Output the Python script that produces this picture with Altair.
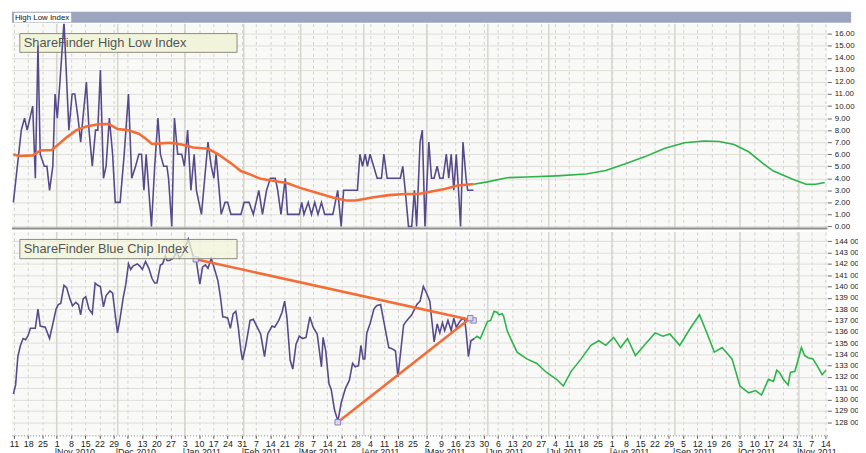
import altair as alt
import pandas as pd

BASE = pd.Timestamp("2010-10-11")  # day offsets below are counted from this date

# ShareFinder High Low Index (purple) : (day offset, value)
hl_line = [(-0.3,2),(3.6,8),(5.2,9),(6.5,8),(9.2,10),(10.5,4),(11.8,15),(12.9,6),(14.9,5),(16.2,5),
           (17.5,3),(19.1,5),(20.2,11),(21.3,9),(22.6,12),(24.6,17),(27.0,8),(28.6,11),(29.9,11),(31.5,9),
           (32.8,7),(35.6,12),(36.9,8),(38.5,5),(40.1,8),(41.2,8),(42.5,13),(44.0,4),(45.3,5),(46.9,9),
           (48.5,6),(49.8,2),(52.2,2),(54.2,6),(56.3,11),(57.9,4),(59.8,5),(61.4,6),(62.7,6),(63.9,3),
           (65.0,6),(67.6,0),(69.2,5),(70.8,9),(72.0,6),(73.6,5),(75.2,5),(76.0,4),(77.6,0),(78.9,9),
           (80.5,6),(82.5,6),(83.8,5),(85.4,8),(87.0,3),(88.6,6),(89.7,3),(92.2,1),(93.8,4),(95.4,7),
           (97.0,5),(98.3,4),(99.4,6),(101.9,1),(103.8,2),(105.1,2),(106.7,1),(111.6,1),(113.2,2),(115.6,2),
           (117.7,1),(120.4,3),(122.2,1),(124.2,3),(126.1,4),(128.5,4),(129.7,3),(131.3,1),(133.4,4),(134.5,1),
           (140.3,1),(141.5,2),(142.6,1),(144.7,2),(146.3,1),(147.9,2),(149.5,1),(151.2,2),(152.8,1),(156.8,1),
           (159.2,3),(160.9,0),(162.1,3),(168.9,3),(170.1,6),(171.4,5),(172.7,6),(173.8,5),(175.1,6),(178.6,4),
           (180.7,4),(181.9,6),(183.5,4),(185.6,4),(190.0,4),(191.2,5),(192.4,3),(194.0,0),(195.6,0),(196.9,3),
           (198.0,0),(199.7,7),(200.8,8),(202.1,0),(204.0,7),(205.3,4),(206.6,4),(208.1,5),(209.4,4),(211.0,4),
           (212.6,6),(213.8,4),(215.0,6),(216.3,3),(217.5,6),(218.6,3),(219.6,0),(220.8,7),(222.3,4),(223.1,3),
           (226.0,3)]

# moving average (orange)
hl_avg = [(-0.3,6.0),(2.4,5.85),(9.2,5.9),(12.9,6.3),(18.6,6.35),(21.8,6.8),(25.9,7.4),(30.7,8.0),
          (35.6,8.3),(42.0,8.5),(46.6,8.5),(50.9,8.1),(55.8,8.0),(61.4,7.7),(64.7,7.3),(67.9,6.85),
          (72.0,6.9),(76.8,6.95),(82.5,6.8),(88.1,6.55),(95.4,6.45),(100.3,6.0),(106.7,5.25),(111.6,4.6),
          (116.4,4.3),(121.3,3.95),(134.2,3.6),(140.7,3.2),(148.8,2.8),(156.8,2.4),(163.3,2.15),(168.1,2.15),
          (176.2,2.4),(184.3,2.6),(192.4,2.7),(198.9,2.7),(205.3,2.9),(211.8,3.1),(218.3,3.4),(224.8,3.5),
          (226.0,3.5)]

# projection (green)
hl_proj = [(226.0,3.5),(232.8,3.7),(242.5,4.05),(252.2,4.1),(266.8,4.2),(281.3,4.35),(291.0,4.65),
           (300.7,5.2),(310.4,5.8),(320.1,6.5),(329.8,6.95),(339.5,7.1),(346.8,7.05),(354.1,6.8),
           (361.3,6.2),(368.6,5.2),(373.5,4.6),(383.2,3.9),(389.5,3.5),(394.3,3.5),(398.7,3.65)]

# ShareFinder Blue Chip Index (thousands)
bc_line = [(-0.3,130.5),(0.8,131.3),(1.9,133.8),(3.2,134.8),(4.5,135.4),(5.7,135.3),(6.8,135.6),(8.1,136.3),
           (10.5,136.3),(11.8,138.0),(12.9,136.5),(15.4,136.4),(17.5,135.4),(19.1,136.7),(20.7,138.0),(21.8,138.4),
           (23.0,138.5),(24.6,140.1),(25.9,139.9),(27.5,138.9),(28.8,138.3),(30.4,138.6),(31.7,138.4),(32.8,137.5),
           (34.0,138.9),(35.3,139.1),(36.9,138.0),(38.5,137.6),(39.9,140.3),(41.2,140.1),(42.5,140.0),(44.0,138.2),
           (45.3,139.2),(47.2,139.6),(48.5,139.4),(49.8,137.5),(50.9,135.9),(52.1,137.1),(53.7,139.0),(55.0,140.2),
           (56.3,142.0),(57.4,141.5),(58.5,141.8),(60.6,142.0),(61.9,141.8),(63.1,141.5),(64.7,142.2),(66.3,141.6),
           (67.9,140.7),(69.2,140.3),(70.3,140.3),(72.0,141.9),(73.1,142.0),(74.4,142.7),(75.2,142.3),(76.5,142.3),
           (78.4,142.5),(80.0,143.1),(81.3,142.5),(82.8,142.8),(85.7,144.2),(88.1,142.7),(89.7,142.2),(91.4,140.2),
           (92.7,141.7),(94.1,141.9),(95.4,141.6),(97.0,142.5),(99.0,141.3),(100.3,140.5),(101.5,139.1),(102.7,137.3),
           (103.8,137.3),(105.1,137.2),(106.4,136.3),(107.8,137.6),(109.1,137.8),(110.3,136.4),(111.6,134.3),(112.4,133.5),
           (114.0,134.8),(116.1,137.0),(117.7,137.1),(119.6,136.4),(121.3,135.8),(123.2,133.8),(124.8,135.8),(126.9,136.5),
           (128.2,136.4),(130.2,137.0),(131.8,137.7),(133.1,138.7),(134.2,137.3),(135.8,133.5),(137.1,132.7),(138.7,134.9),
           (140.3,135.6),(142.0,135.4),(143.6,135.5),(145.5,137.3),(147.1,136.4),(149.1,135.8),(151.2,132.9),(152.0,135.5),
           (153.3,134.3),(154.9,131.4),(156.0,130.9),(157.6,129.1),(159.3,128.1),(160.9,129.7),(163.0,131.0),(164.9,131.7),
           (166.5,133.2),(167.8,132.9),(169.4,133.0),(170.6,134.8),(171.7,133.6),(172.5,133.6),(173.5,135.9),(175.1,136.7),
           (177.0,138.0),(178.3,138.3),(180.3,138.4),(182.4,136.4),(184.3,134.6),(185.9,134.5),(187.6,134.3),(188.8,132.0),
           (191.6,136.6),(193.2,137.0),(195.6,137.5),(198.1,138.4),(199.7,138.7),(201.3,140.0),(202.9,139.4),(204.5,138.7),
           (205.3,137.3),(206.6,135.1),(208.1,136.7),(209.4,135.9),(210.7,136.8),(211.8,136.1),(213.4,137.0),(215.0,136.1),
           (216.3,137.2),(217.5,136.4),(219.6,137.0),(221.5,137.2),(222.3,136.1),(223.5,133.8),(224.7,135.2),(226.4,135.4)]

bc_proj = [(226.4,135.4),(227.7,135.6),(229.3,135.4),(231.2,136.2),(232.8,136.9),(234.4,137.0),(236.1,137.8),
           (237.7,137.7),(238.5,137.5),(240.1,137.6),(240.9,137.3),(242.5,136.1),(245.0,135.1),(247.4,134.2),
           (252.2,133.6),(257.1,133.2),(261.9,132.4),(266.8,131.8),(270.1,131.2),(274.0,132.5),(278.9,133.6),
           (283.7,134.8),(287.6,135.2),(291.0,134.8),(294.9,135.5),(298.3,134.6),(301.7,135.4),(305.6,133.9),
           (310.4,134.9),(315.3,135.9),(319.1,135.6),(322.5,135.8),(327.4,134.8),(332.2,136.2),(337.1,137.5),
           (340.5,136.0),(344.4,134.2),(348.2,134.6),(353.1,133.6),(357.0,131.2),(361.3,130.6),(364.7,130.8),
           (367.6,130.4),(371.0,131.8),(373.5,131.6),(375.1,132.6),(376.4,132.4),(378.3,131.8),(380.7,131.3),
           (381.8,132.4),(384.0,132.5),(385.1,133.2),(387.2,134.6),(388.8,133.9),(390.4,133.7),(392.9,133.6),
           (395.3,132.9),(397.4,132.2),(399.3,132.6)]

# trend lines: (segment, day offset, value)
trend = [("upper",89.4,142.4),("upper",226.0,137.0),("lower",159.2,128.0),("lower",224.4,137.2)]

month_starts = ["2010-11-01","2010-12-01","2011-01-03","2011-02-01","2011-03-01","2011-04-01","2011-05-02",
                "2011-06-01","2011-07-01","2011-08-01","2011-09-01","2011-10-03","2011-11-01"]
month_labels = ["|Nov 2010","|Dec 2010","|Jan 2011","|Feb 2011","|Mar 2011","|Apr 2011","|May 2011",
                "|Jun 2011","|Jul 2011","|Aug 2011","|Sep 2011","|Oct 2011","|Nov 2011"]

def frame(pairs):
    return pd.DataFrame({"date": [BASE + pd.Timedelta(days=d) for d, _ in pairs],
                         "v": [v for _, v in pairs]})

W = 826
H_HEAD = 14
H_TOP = 208
H_BOT = 206
FONT = "Liberation Sans"
PURPLE = "#574a8a"
ORANGE = "#f36d38"
GREEN = "#2cb34a"
GRID_H = "#deded8"
GRID_V = "#d0d0cc"
MONTH = "#d6d6ce"

XDOM = [alt.DateTime(year=2010, month=10, date=10), alt.DateTime(year=2011, month=11, date=15)]
mondays = pd.date_range("2010-10-11", "2011-11-14", freq="7D")
monday_vals = [alt.DateTime(year=d.year, month=d.month, date=d.day) for d in mondays]

months_df = pd.DataFrame({"date": pd.to_datetime(month_starts), "label": month_labels})
one = pd.DataFrame({"a": [0]})

# ---------- header bar ----------
head_bar = alt.Chart(one).mark_rect(color="#9ca4bf").encode(
    x=alt.value(0), x2=alt.value(850), y=alt.value(3), y2=alt.value(14))
head_box = alt.Chart(one).mark_rect(color="white").encode(
    x=alt.value(2), x2=alt.value(60), y=alt.value(4), y2=alt.value(13.5))
head_txt = alt.Chart(one).mark_text(text="High Low Index", font=FONT, fontSize=8, align="left",
                                    baseline="middle", color="#111").encode(x=alt.value(3), y=alt.value(9))
header = alt.layer(head_bar, head_box, head_txt).properties(
    width=W, height=H_HEAD, view=alt.ViewBackground(fill="white", stroke=None))

# ---------- top panel ----------
x_top = alt.X("date:T", scale=alt.Scale(domain=XDOM),
              axis=alt.Axis(values=monday_vals, grid=True, gridDash=[3, 3], gridColor=GRID_V,
                            labels=False, ticks=False, domain=False, title=None))
y_top = alt.Y("v:Q", scale=alt.Scale(domain=[-0.22, 16.84], nice=False, zero=False),
              axis=alt.Axis(orient="right", values=list(range(0, 17)), format=".2f", grid=True,
                            gridColor=GRID_H, tickSize=4, tickColor="#666", domain=False,
                            labelPadding=3, title=None))

mrule_top = alt.Chart(months_df).mark_rule(color=MONTH, strokeWidth=1.5).encode(x=x_top)
box_top = alt.Chart(one).mark_rect(fill="#f1f4da", stroke="#8a8a80", strokeWidth=1).encode(
    x=alt.value(8), x2=alt.value(228), y=alt.value(10), y2=alt.value(29))
txt_top = alt.Chart(one).mark_text(text="ShareFinder High Low Index", font=FONT, fontSize=13,
                                   align="left", baseline="middle", color="#555").encode(
    x=alt.value(12), y=alt.value(19.5))
hl_l = alt.Chart(frame(hl_line)).mark_line(color=PURPLE, strokeWidth=1.6, clip=True).encode(x=x_top, y=y_top)
hl_a = alt.Chart(frame(hl_avg)).mark_line(color=ORANGE, strokeWidth=2.6).encode(x=x_top, y=y_top)
hl_p = alt.Chart(frame(hl_proj)).mark_line(color=GREEN, strokeWidth=1.6).encode(x=x_top, y=y_top)
sep = alt.Chart(one).mark_rule(color="#8f8f8f", strokeWidth=2).encode(
    x=alt.value(0), x2=alt.value(W), y=alt.value(H_TOP - 0.5))

top = alt.layer(mrule_top, box_top, txt_top, hl_l, hl_a, hl_p, sep).properties(
    width=W, height=H_TOP, view=alt.ViewBackground(fill="#f9f9f7", stroke=None))

# ---------- bottom panel ----------
x_bot = alt.X("date:T", scale=alt.Scale(domain=XDOM),
              axis=alt.Axis(values=monday_vals, format="%-d", grid=True, gridDash=[3, 3],
                            gridColor=GRID_V, tickSize=3, tickColor="#555", domainColor="#777",
                            domainDash=[1, 2], labelPadding=1, labelAngle=0, labelFontSize=9,
                            labelColor="#222", title=None))
y_bot = alt.Y("v:Q", scale=alt.Scale(domain=[126.84, 144.81], nice=False, zero=False),
              axis=alt.Axis(orient="right", values=list(range(128, 145)),
                            labelExpr="format(datum.value, 'd') + ' 000'", grid=True,
                            gridColor=GRID_H, tickSize=4, tickColor="#666", domain=False,
                            labelPadding=3, title=None))

mrule_bot = alt.Chart(months_df).mark_rule(color=MONTH, strokeWidth=1.5).encode(x=x_bot)
bc_l = alt.Chart(frame(bc_line)).mark_line(color=PURPLE, strokeWidth=1.6).encode(x=x_bot, y=y_bot)
bc_p = alt.Chart(frame(bc_proj)).mark_line(color=GREEN, strokeWidth=1.6).encode(x=x_bot, y=y_bot)
trend_df = pd.DataFrame({"seg": [t[0] for t in trend],
                         "date": [BASE + pd.Timedelta(days=t[1]) for t in trend],
                         "v": [t[2] for t in trend]})
tr_l = alt.Chart(trend_df).mark_line(color=ORANGE, strokeWidth=2.6).encode(x=x_bot, y=y_bot, detail="seg:N")
tr_m = alt.Chart(trend_df).mark_square(size=30, fill="#dcd8ef", stroke="#8b80bd", strokeWidth=1,
                                       opacity=1).encode(x=x_bot, y=y_bot)
box_bot = alt.Chart(one).mark_rect(fill="#f1f4da", fillOpacity=0.75, stroke="#8a8a80", strokeWidth=1).encode(
    x=alt.value(8), x2=alt.value(228), y=alt.value(7.5), y2=alt.value(27))
txt_bot = alt.Chart(one).mark_text(text="ShareFinder Blue Chip Index", font=FONT, fontSize=13,
                                   align="left", baseline="middle", color="#555").encode(
    x=alt.value(12), y=alt.value(17.5))
mtxt = alt.Chart(months_df).mark_text(font=FONT, fontSize=9, align="left", baseline="top",
                                      color="#222", dx=-2).encode(
    x=x_bot, y=alt.value(H_BOT + 13), text="label:N")

bottom = alt.layer(mrule_bot, bc_l, bc_p, tr_l, tr_m, box_bot, txt_bot, mtxt).properties(
    width=W, height=H_BOT, view=alt.ViewBackground(fill="#f9f9f7", stroke=None))

chart = alt.vconcat(header, top, bottom, spacing=0).resolve_scale(
    x="independent", y="independent").properties(
    padding={"left": 0, "top": -2, "right": -5, "bottom": 0}, background="white").configure_axis(
    labelFont=FONT, labelFontSize=8, labelColor="#222")

chart.save("out.html", embed_options={"renderer": "svg", "actions": False})
